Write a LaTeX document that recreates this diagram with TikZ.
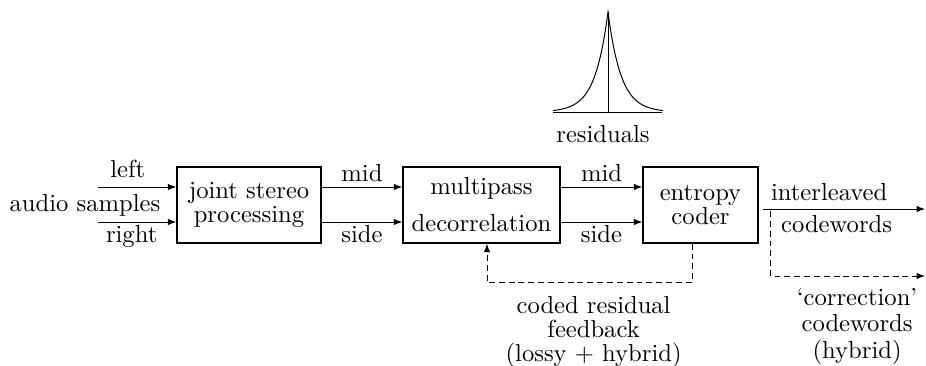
\documentclass[tikz,border=0pt]{standalone}
\usepackage{amsmath,amssymb}
\usepackage{tikz}
\usetikzlibrary{arrows.meta,positioning,calc}

\begin{document}
\begin{tikzpicture}[x=0.4065pt, y=0.4065pt, >={Latex[length=3.4pt,width=2.6pt]},
    block/.style={draw, semithick, align=center, minimum height=30.9pt, inner sep=0pt},
    lbl/.style={inner sep=2pt, text height=6.2pt, text depth=0pt},
    fb/.style={dash pattern=on 2.4pt off 1.6pt}]
    \useasboundingbox (0,0) rectangle (926,366);
    % blocks
    \node[block, minimum width=58.5pt] (jsp) at (249,161) {joint stereo\\[-2.6pt]processing};
    \node[block, minimum width=63.8pt] (dec) at (481.5,161) {multipass\\[3pt]decorrelation};
    \node[block, minimum width=46.7pt] (ent) at (700.5,161) {entropy\\[-2.2pt]coder};
    % input channels
    \node[anchor=base] (src) at (85,154) {audio samples};
    \coordinate (inL) at (98,179);
    \coordinate (inR) at (98,144);
    \draw[->] (inL) -- node[lbl, above, pos=.38, yshift=1.6pt] {left} ($(jsp.west)+(0,18)$);
    \draw[->] (inR) -- node[lbl, below, pos=.43] {right} ($(jsp.west)+(0,-17)$);
    % mid / side
    \draw[->] ($(jsp.east)+(0,18)$) -- node[lbl, above] {mid} ($(dec.west)+(0,18)$);
    \draw[->] ($(jsp.east)+(0,-17)$) -- node[lbl, below] {side} ($(dec.west)+(0,-17)$);
    \draw[->] ($(dec.east)+(0,18)$) -- node[lbl, above] {mid} ($(ent.west)+(0,18)$);
    \draw[->] ($(dec.east)+(0,-17)$) -- node[lbl, below] {side} ($(ent.west)+(0,-17)$);
    % output stream
    \coordinate (out) at ($(ent.east)+(4,-4)$);
    \coordinate (outend) at (925,157);
    \draw[->] (out) -- node[lbl, above right, pos=0, xshift=1.2pt, yshift=1.4pt] {interleaved}
        node[lbl, below right, pos=0, xshift=5.3pt, yshift=-1pt] {codewords} (outend);
    \coordinate (corr) at ($(out)+(8,-2)$);
    \coordinate (corrend) at (925,90);
    \draw[fb, ->] (corr) |- node[below=1.4pt, pos=.78, align=center]
        {`correction'\\[-1.2pt]codewords\\[-1.2pt](hybrid)} (corrend);
    % feedback loop
    \coordinate (fbturn) at ($(dec.south)+(5.5,-39)$);
    \draw[fb, ->] ($(ent.south)+(-8.5,0)$) |- node[below=2.2pt, pos=.74, align=center]
        {coded residual\\[-2.4pt]feedback\\[-2.4pt](lossy + hybrid)} (fbturn)
        -- ($(dec.south)+(5.5,0)$);
    % residual distribution
    \draw (553,254) -- (662,254);
    \draw (608,254) -- (608,354);
    \draw[domain=-55:55, samples=221] plot ({608+\x}, {254+100*exp(-abs(\x)/13)});
    \node[anchor=base] (resid) at (603,223) {residuals};
\end{tikzpicture}
\end{document}
